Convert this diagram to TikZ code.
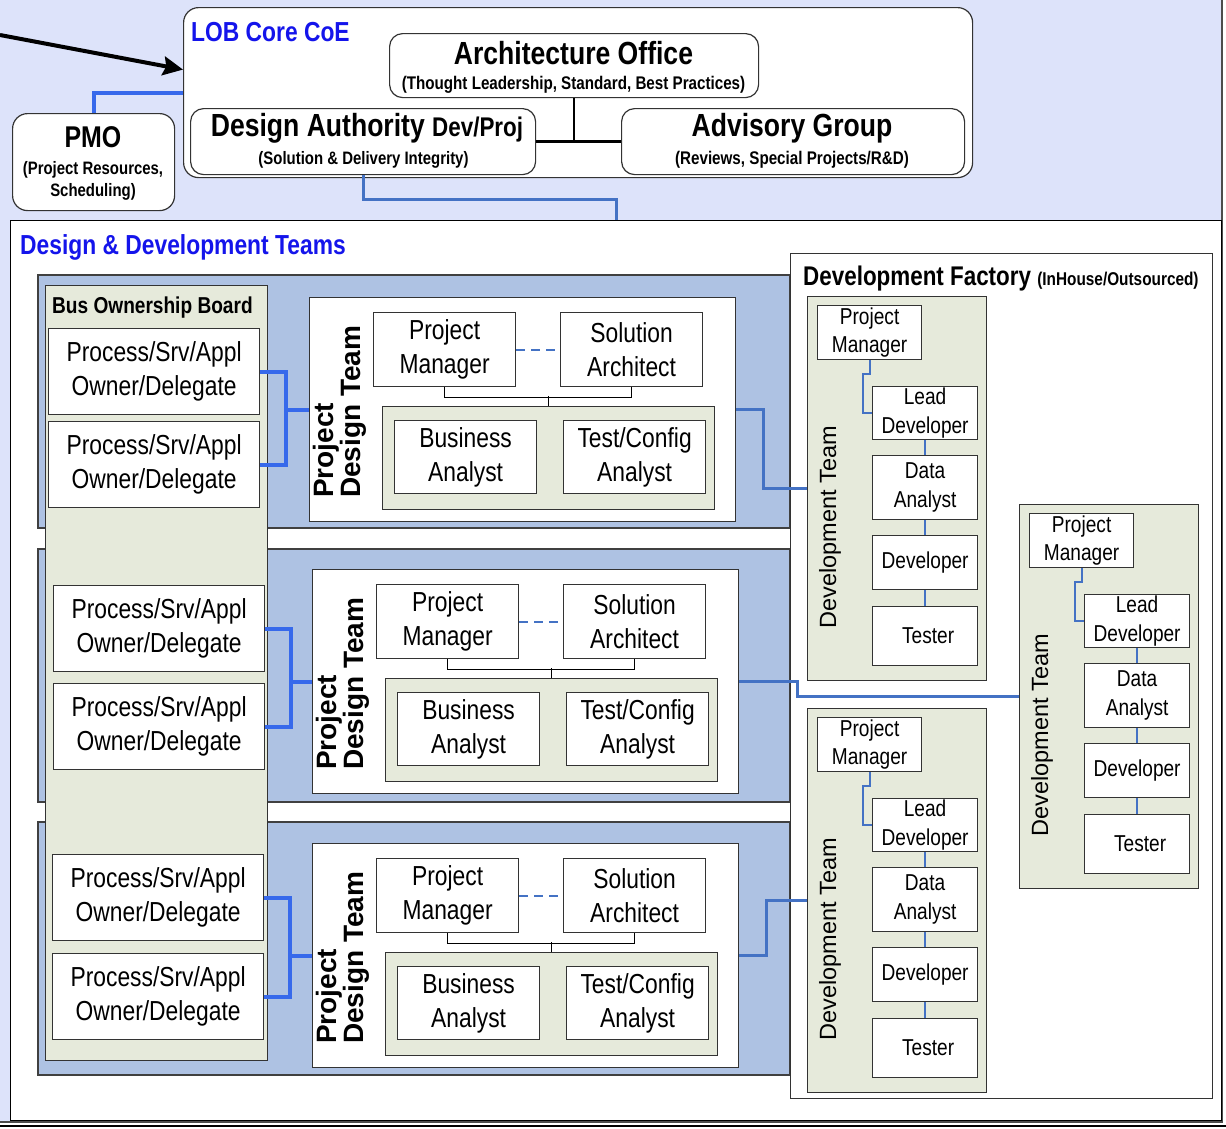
\documentclass[tikz,border=0pt]{standalone}
\usepackage{fontspec}
\setmainfont{Liberation Sans}
\newfontfamily\nar{Liberation Sans}[FakeStretch=0.83]
\usetikzlibrary{arrows.meta,positioning}
\definecolor{slidebg}{RGB}{221,227,250}
\definecolor{bandblue}{RGB}{174,194,227}
\definecolor{sage}{RGB}{230,234,219}
\definecolor{titleblue}{RGB}{20,20,235}
\definecolor{linkblue}{RGB}{55,105,235}
\definecolor{steel}{RGB}{68,114,196}
\tikzset{
  card/.style={draw=black!80, fill=white, line width=1.2pt, inner sep=0pt, anchor=north west},
  rcard/.style={card, rounded corners=13pt},
  sagebox/.style={draw=black!80, fill=sage, line width=1.2pt, inner sep=0pt, anchor=north west},
  roletext/.style={align=center, font=\nar\fontsize{27.5}{34}\selectfont},
  devtext/.style={align=center, font=\nar\fontsize{23}{28.5}\selectfont},
  lbl/.style={inner sep=0pt},
  ownerlink/.style={draw=linkblue, line width=4pt},
  steellink/.style={draw=steel, line width=3pt},
  thinlink/.style={draw=steel, line width=2pt},
}
\begin{document}
\begin{tikzpicture}[x=1pt,y=-1pt]
\useasboundingbox (0,0) rectangle (1226,1128);
% slide background
\fill[slidebg] (0,0) rectangle (1222,1122);
\draw[black!70, line width=1.5pt] (1222,0) -- (1222,1122) -- (0,1122);
\draw[black, line width=2pt] (0,1126) -- (1226,1126);

% LOB core group
\node[rcard, minimum width=789pt, minimum height=170pt, rounded corners=15pt] (lob) at (183,7) {};
\node[lbl, anchor=west, text=titleblue, font=\nar\bfseries\fontsize{27.5}{30}\selectfont] (lobT) at (191,32) {LOB Core CoE};
\coordinate (feed) at (0,35);
\draw[line width=4pt, -{Stealth[length=20pt,width=19pt,inset=3pt]}] (feed) -- ([yshift=23pt]lob.west);

\node[rcard, minimum width=369pt, minimum height=64pt] (arch) at (389,33) {};
\node[lbl, font=\nar\bfseries\fontsize{32}{36}\selectfont] (archT) at (573.5,53) {Architecture Office};
\node[lbl, font=\nar\bfseries\fontsize{18.3}{20}\selectfont] (archS) at (573.5,85) {(Thought Leadership, Standard, Best Practices)};

\node[rcard, minimum width=345pt, minimum height=66pt] (da) at (190,108) {};
\node[lbl, font=\nar\bfseries\fontsize{32}{36}\selectfont] (daT) at (367,128) {Design Authority {\fontsize{27}{30}\selectfont Dev/Proj}};
\node[lbl, font=\nar\bfseries\fontsize{18}{20}\selectfont] (daS) at (363.5,160) {(Solution \& Delivery Integrity)};

\node[rcard, minimum width=343pt, minimum height=66pt] (ag) at (621,108) {};
\node[lbl, font=\nar\bfseries\fontsize{32}{36}\selectfont] (agT) at (792,128) {Advisory Group};
\node[lbl, font=\nar\bfseries\fontsize{18.3}{20}\selectfont] (agS) at (792,160) {(Reviews, Special Projects/R\&D)};

\draw[black, line width=2.5pt] (arch.south) -- (arch.south |- da.east);
\draw[black, line width=2.5pt] (da.east) -- (ag.west);

% PMO
\node[rcard, minimum width=162pt, minimum height=97pt, rounded corners=15pt] (pmo) at (12,113) {};
\node[lbl, font=\nar\bfseries\fontsize{30}{34}\selectfont] (pmoT) at (93,137) {PMO};
\node[lbl, align=center, font=\nar\bfseries\fontsize{18}{22}\selectfont] (pmoS) at (93,181) {(Project Resources,\\Scheduling)};
\draw[ownerlink] (pmo.north) |- (lob.west);

% design & development teams
\node[card, draw=black, minimum width=1211pt, minimum height=900pt] (ddt) at (10,220) {};
\node[lbl, anchor=west, text=titleblue, font=\nar\bfseries\fontsize{27.5}{30}\selectfont] (ddtT) at (20,247) {Design \& Development Teams};
\coordinate (ddin) at (616,220);
\draw[steellink] (da.south) -- ++(0,24) -| (ddin);

\foreach \by in {0,274,547}
  \filldraw[fill=bandblue, draw=black!75, line width=1.2pt] (38,275+\by) rectangle (790,528+\by);

\node[sagebox, minimum width=222pt, minimum height=775pt] (bob) at (45,285) {};
\node[lbl, anchor=west, font=\nar\bfseries\fontsize{23}{26}\selectfont] (bobT) at (52,308) {Bus Ownership Board};

% development factory
\node[card, minimum width=422pt, minimum height=845pt] (dfy) at (790,253) {};
\node[lbl, anchor=west, font=\nar\bfseries\fontsize{27}{30}\selectfont] (dfyT) at (803,279) {Development Factory {\fontsize{18.5}{20}\selectfont (InHouse/Outsourced)}};

\foreach \t/\dx/\dy in {1/0/0,2/212/208,3/0/412}{
  \begin{scope}[shift={(\dx,\dy)}]
    \node[sagebox, minimum width=179pt, minimum height=384pt] (dt\t) at (807,296) {};
    \node[rotate=90, font=\fontsize{23.5}{28}\selectfont] (dtT\t) at (830,527) {Development Team};
    \node[card, devtext, minimum width=104pt, minimum height=54pt] (dpm\t) at (817,305) {Project\\Manager};
    \node[card, devtext, minimum width=105pt, minimum height=53pt] (dld\t) at (872,386) {Lead\\Developer};
    \node[card, devtext, minimum width=105pt, minimum height=64pt] (dda\t) at (872,455) {Data\\Analyst};
    \node[card, devtext, minimum width=105pt, minimum height=54pt] (ddv\t) at (872,535) {Developer};
    \node[card, devtext, minimum width=105pt, minimum height=59pt] (dts\t) at (872,606) {\hspace*{6pt}Tester};
    \draw[thinlink] (dpm\t.south) -- ++(0,14) -- ++(-7,0) |- (dld\t.west);
    \draw[thinlink] (dld\t.south) -- (dda\t.north);
    \draw[thinlink] (dda\t.south) -- (ddv\t.north);
    \draw[thinlink] (ddv\t.south) -- (dts\t.north);
  \end{scope}
}

% project rows
\foreach \r/\ox/\oy/\og/\px/\py/\jx in {1/0/0/6pt/0/0/27, 2/5/257/11pt/3/272/58, 3/4/526/12pt/3/546/27}{
  \node[card, roletext, minimum width=211pt, minimum height=86pt] (oa\r) at (48+\ox,328+\oy) {Process/Srv/Appl\\Owner/Delegate};
  \node[card, roletext, minimum width=211pt, minimum height=86pt, below=\og of oa\r] (ob\r) {Process/Srv/Appl\\Owner/Delegate};
  \begin{scope}[shift={(\px,\py)}]
    \node[card, minimum width=426pt, minimum height=224pt] (pdt\r) at (309,297) {};
    \node[lbl, rotate=90, anchor=west, align=left, font=\bfseries\fontsize{28}{26}\selectfont] (pdtT\r) at (340,498) {Project\\Design Team};
    \node[card, roletext, minimum width=142pt, minimum height=74pt] (pm\r) at (373,312) {Project\\Manager};
    \node[card, roletext, minimum width=142pt, minimum height=74pt] (sa\r) at (560,312) {Solution\\Architect};
    \node[sagebox, minimum width=332pt, minimum height=103pt] (grp\r) at (382,406) {};
    \node[card, roletext, minimum width=142pt, minimum height=73pt] (ba\r) at (394,420) {Business\\Analyst};
    \node[card, roletext, minimum width=142pt, minimum height=73pt] (tc\r) at (563,420) {Test/Config\\Analyst};
    \draw[draw=steel, line width=1.8pt, dash pattern=on 9pt off 6pt] (pm\r.east) -- (sa\r.west);
    \draw[black, line width=1.2pt] (pm\r.south) -- ++(0,10) -| (sa\r.south);
    \draw[black, line width=1.2pt] (grp\r.north) -- ++(0,-10);
  \end{scope}
  \coordinate (jn\r) at ([xshift=26pt]oa\r.east);
  \draw[ownerlink] (oa\r.east) -- (jn\r) |- (ob\r.east);
  \draw[ownerlink] (jn\r |- pdt\r.west) -- (pdt\r.west);
  \draw[steellink] (pdt\r.east) -- ++(\jx,0) |- (dt\r.west);
}
\end{tikzpicture}
\end{document}
